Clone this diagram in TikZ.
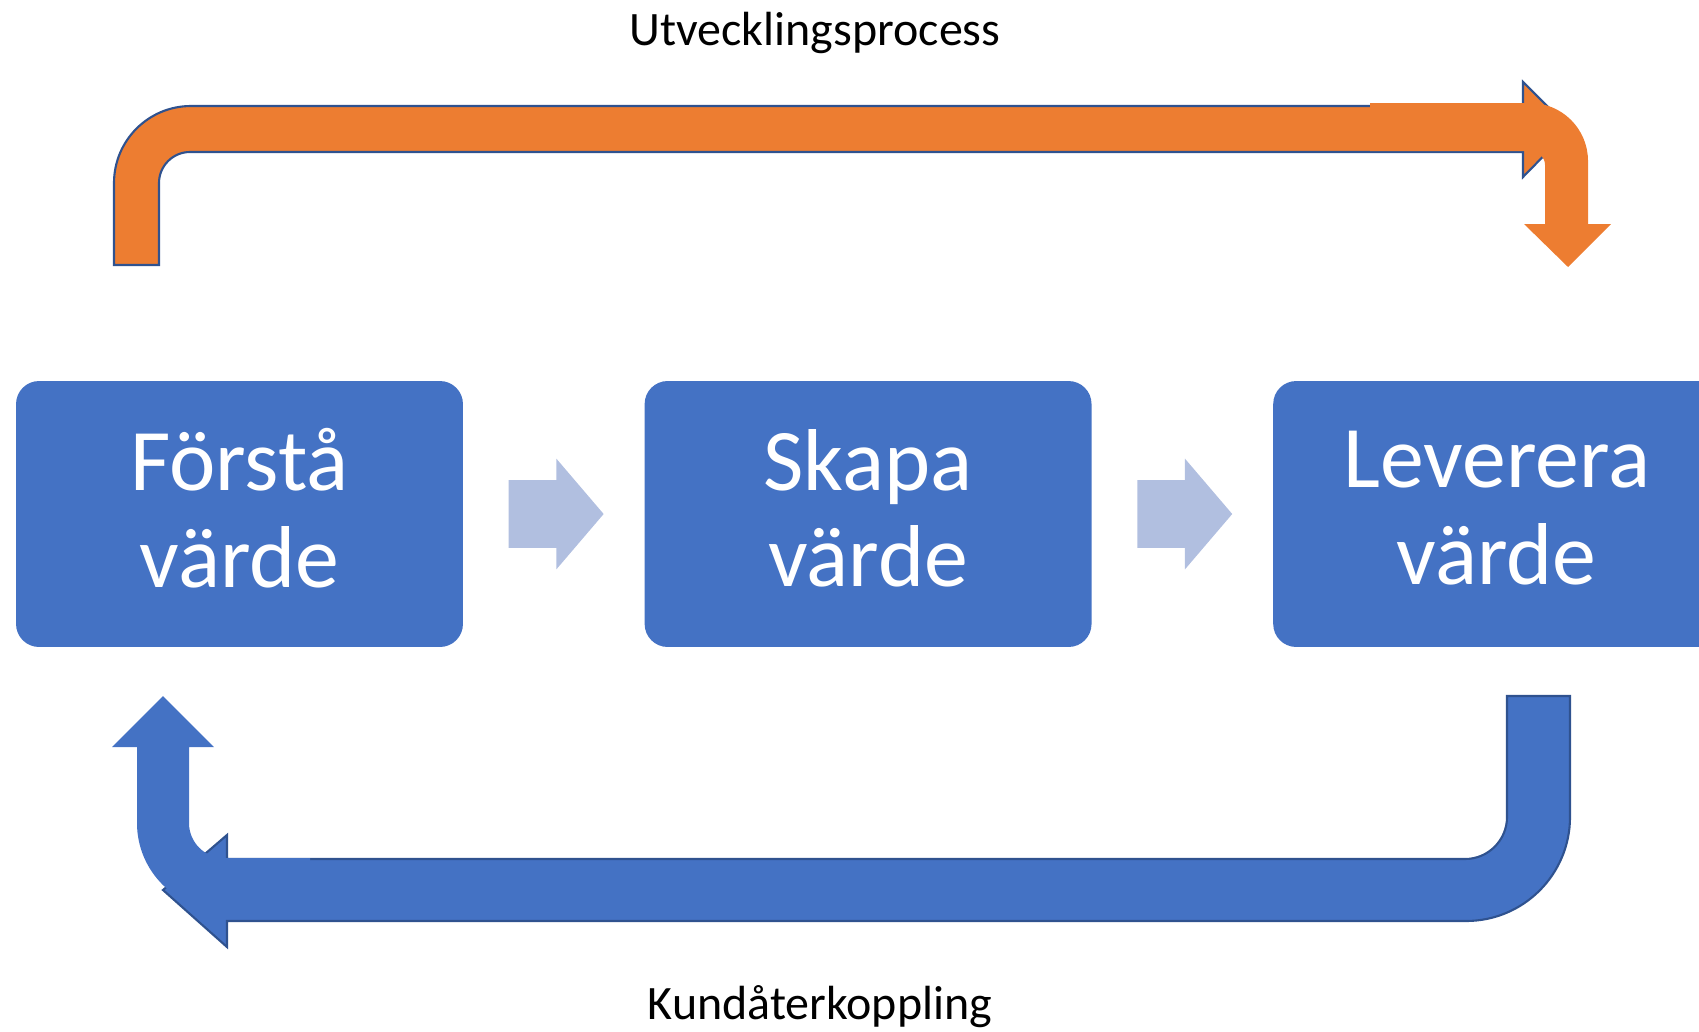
\documentclass[tikz,border=0pt]{standalone}
\usepackage{fontspec}
\setmainfont{Carlito}
\usetikzlibrary{calc,positioning,shapes.arrows}

\definecolor{boxblue}{HTML}{4472C4}
\definecolor{edgeblue}{HTML}{2F528F}
\definecolor{paleblue}{HTML}{B1BFE0}
\definecolor{devorange}{HTML}{ED7D31}

\begin{document}
\begin{tikzpicture}[x=0.02cm,y=-0.02cm]
	\tikzstyle{every node}+=[inner sep=0pt]
	\tikzstyle{stage}=[fill=boxblue, rounded corners=0.46cm, minimum width=8.94cm, minimum height=5.32cm, align=center, text=white, font=\fontsize{50}{55}\selectfont, execute at end node={\rule[-7pt]{0pt}{0pt}}]
	\tikzstyle{chevron}=[single arrow, fill=paleblue, inner ysep=0.67cm, minimum height=1.9cm, single arrow head extend=0.43cm, single arrow tip angle=99]
	\tikzstyle{caption}=[anchor=base, font=\fontsize{27.3}{32}\selectfont]
	\useasboundingbox (0,0) rectangle (1699,1031);
	\clip (0,0) rectangle (1699,1031);
	% the three stages
	\node[stage] (forsta) at (239.5,514) {Förstå\\värde};
	\node[stage, right=3.62cm of forsta] (skapa) {Skapa\\värde};
	\node[stage, right=3.62cm of skapa] (leverera) {Leverera\\värde};
	\node[chevron, right=0.9cm of forsta] (pil1) {};
	\node[chevron, right=0.9cm of skapa] (pil2) {};
	% top arrow
	\draw [edgeblue, line width=1.2pt, fill=devorange] (114,265) -- (114,183) arc [start angle=180, end angle=270, radius=77] -- (1523,106) -- (1523,82) -- (1570,129) -- (1523,177) -- (1523,152) -- (190,152) arc [start angle=270, end angle=180, radius=31] -- (159,265) -- cycle;
	\fill [devorange] (1370,103) -- (1530,103) arc [start angle=270, end angle=360, radius=58] -- (1588,224) -- (1611,224) -- (1568,267) -- (1524,224) -- (1545,224) -- (1545,165) arc [start angle=0, end angle=-90, radius=14] -- (1370,151) -- cycle;
	% bottom arrow
	\draw [edgeblue, line width=1.2pt, fill=boxblue] (1507,696) -- (1507,817) arc [start angle=0, end angle=90, radius=42] -- (227,859) -- (227,835) -- (163,890) -- (227,947) -- (227,921) -- (1466,921) arc [start angle=90, end angle=0, radius=104] -- (1570,696) -- cycle;
	\fill [boxblue] (310,858) -- (224,858) arc [start angle=90, end angle=180, radius=35] -- (189,747) -- (214,747) -- (163,696) -- (112,747) -- (137,747) -- (137,823) arc [start angle=180, end angle=90, radius=87] -- (310,910) -- cycle;
	% captions
	\node[caption] (utv) at (815,45) {Utvecklingsprocess};
	\node[caption] (kund) at (820,1019) {Kundåterkoppling};
\end{tikzpicture}
\end{document}
